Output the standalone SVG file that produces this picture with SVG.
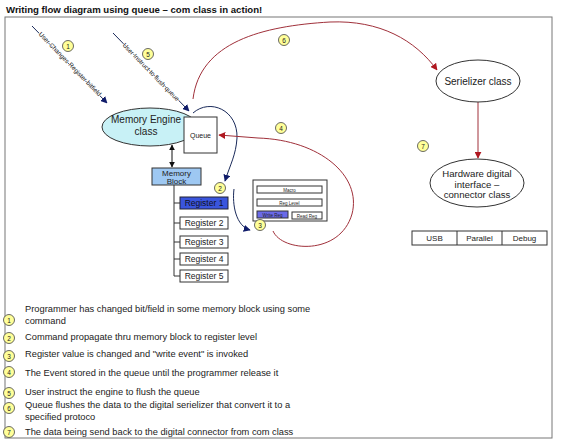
<svg xmlns="http://www.w3.org/2000/svg" width="565" height="444" viewBox="0 0 565 444">
<style>
text{font-family:"Liberation Sans",Arial,sans-serif;fill:#222}
.t{font-size:10px}
.lg{font-size:9.3px}
.sm{font-size:7px}
.rg{font-size:8.5px;text-anchor:middle}
.bx{fill:#fff;stroke:#333;stroke-width:1}
.num{fill:#ffff99;stroke:#444;stroke-width:0.8}
.nt{font-size:6.5px;text-anchor:middle}
.nav{fill:none;stroke:#1a2a5a;stroke-width:1}
.red{fill:none;stroke:#a0303a;stroke-width:1}
.diag{font-size:6.4px;paint-order:stroke;stroke:#fff;stroke-width:1.5px;fill:#111}
</style>
<defs>
<marker id="an" viewBox="0 0 10 10" refX="9" refY="5" markerWidth="7" markerHeight="7" orient="auto-start-reverse" markerUnits="userSpaceOnUse"><path d="M0,0L10,5L0,10z" fill="#101c6a"/></marker>
<marker id="ar" viewBox="0 0 10 10" refX="9" refY="5" markerWidth="7" markerHeight="7" orient="auto-start-reverse" markerUnits="userSpaceOnUse"><path d="M0,0L10,5L0,10z" fill="#b01820"/></marker>
<marker id="ak" viewBox="0 0 10 10" refX="9" refY="5" markerWidth="6" markerHeight="6" orient="auto-start-reverse" markerUnits="userSpaceOnUse"><path d="M0,0L10,5L0,10z" fill="#111"/></marker>
</defs>
<rect width="565" height="444" fill="#fff"/>
<text x="6" y="13" style="font-size:9.6px;font-weight:bold;fill:#111">Writing flow diagram using queue – com class in action!</text>
<rect x="5" y="17" width="547" height="421" fill="none" stroke="#777" stroke-width="1"/>

<g id="connectors">
<line x1="32" y1="26" x2="107" y2="103" class="nav" marker-end="url(#an)"/>
<line x1="113" y1="33" x2="189" y2="111" class="nav" marker-end="url(#an)"/>
<line x1="172" y1="145" x2="172" y2="167" stroke="#111" stroke-width="1" marker-start="url(#ak)" marker-end="url(#ak)"/>
<path d="M193,113 C210,98 238,110 237,138 C236,155 230,165 225,181" class="nav" marker-end="url(#an)"/>
<path d="M234,189 C232,205 236,226 250,230" class="nav" marker-end="url(#an)"/>
<path d="M273,231 C282,252 340,256 352,214 C362,176 320,140 258,138 L219,135" class="red" marker-end="url(#ar)"/>
<path d="M193,99 C200,42 262,26 330,22 C380,20 415,40 437,70" class="red" marker-end="url(#ar)"/>
<line x1="478" y1="102" x2="478" y2="158" class="red" marker-end="url(#ar)"/>
<path d="M174,185 L174,276 M174,203 L180,203 M174,223 L180,223 M174,242 L180,242 M174,259 L180,259 M174,276 L180,276" fill="none" stroke="#333" stroke-width="1"/>
</g>

<text class="diag" transform="translate(70,64) rotate(45.7)" text-anchor="middle" dy="2.2">User Changes Register bitfield</text>
<text class="diag" transform="translate(151,72) rotate(45.7)" text-anchor="middle" dy="2.2">User Instruct to flush queue</text>

<g id="memory-engine">
<ellipse cx="150" cy="127" rx="48" ry="19" fill="#c8f1f6" stroke="#333" stroke-width="1"/>
<text x="146" y="123" class="t" text-anchor="middle">Memory Engine</text>
<text x="146" y="135" class="t" text-anchor="middle">class</text>
</g>
<g id="queue">
<rect x="184" y="117" width="33" height="36" class="bx"/>
<text x="200.5" y="138" class="sm" text-anchor="middle">Queue</text>
</g>
<g id="memory-block">
<rect x="152" y="168" width="49" height="17" fill="#9ec8f2" stroke="#333" stroke-width="1"/>
<text x="176.5" y="175.5" style="font-size:8px" text-anchor="middle">Memory</text>
<text x="176.5" y="184" style="font-size:8px" text-anchor="middle">Block</text>
</g>
<g id="register1"><rect x="180" y="197" width="48" height="12" fill="#3a55dd" stroke="#223" stroke-width="1"/><text x="204" y="206" class="rg" style="fill:#112">Register 1</text></g>
<g id="register2"><rect x="180" y="217" width="48" height="12" class="bx"/><text x="204" y="226" class="rg">Register 2</text></g>
<g id="register3"><rect x="180" y="236" width="48" height="12" class="bx"/><text x="204" y="245" class="rg">Register 3</text></g>
<g id="register4"><rect x="180" y="253" width="48" height="12" class="bx"/><text x="204" y="262" class="rg">Register 4</text></g>
<g id="register5"><rect x="180" y="270" width="48" height="12" class="bx"/><text x="204" y="279" class="rg">Register 5</text></g>

<g id="panel">
<rect x="253" y="180" width="74" height="41" class="bx"/>
<rect x="257" y="186" width="65" height="7" class="bx"/><text x="289.5" y="191.5" style="font-size:4.5px" text-anchor="middle">Macro</text>
<rect x="257" y="199" width="65" height="7" class="bx"/><text x="289.5" y="204.5" style="font-size:4.5px" text-anchor="middle">Reg Level</text>
<rect x="257" y="211" width="31" height="7" fill="#6a6ae8" stroke="#333" stroke-width="1"/><text x="272.5" y="216.5" style="font-size:4.5px" text-anchor="middle">Write Reg</text>
<rect x="292" y="212" width="30" height="7" class="bx"/><text x="307" y="217.5" style="font-size:4.5px" text-anchor="middle">Read Reg</text>
</g>

<g id="serializer">
<ellipse cx="478" cy="81" rx="42" ry="21" fill="#fff" stroke="#333" stroke-width="1"/>
<text x="478" y="85" class="t" text-anchor="middle">Serielizer class</text>
</g>
<g id="hardware">
<ellipse cx="477" cy="183" rx="47" ry="24" fill="#fff" stroke="#333" stroke-width="1"/>
<text x="477" y="177" style="font-size:9.6px" text-anchor="middle">Hardware digital</text>
<text x="477" y="187.5" style="font-size:9.6px" text-anchor="middle">interface –</text>
<text x="477" y="198" style="font-size:9.6px" text-anchor="middle">connector class</text>
</g>
<g id="ports">
<rect x="412" y="231" width="135" height="14" class="bx"/>
<line x1="457" y1="231" x2="457" y2="245" stroke="#333"/>
<line x1="502" y1="231" x2="502" y2="245" stroke="#333"/>
<text x="434.5" y="241" style="font-size:8px" text-anchor="middle">USB</text>
<text x="479.5" y="241" style="font-size:8px" text-anchor="middle">Parallel</text>
<text x="524.5" y="241" style="font-size:8px" text-anchor="middle">Debug</text>
</g>

<g id="markers">
<circle cx="68" cy="46" r="5.5" class="num"/><text x="68" y="48.5" class="nt">1</text>
<circle cx="148" cy="54" r="5.5" class="num"/><text x="148" y="56.5" class="nt">5</text>
<circle cx="284" cy="40" r="5.5" class="num"/><text x="284" y="42.5" class="nt">6</text>
<circle cx="281" cy="128" r="5.5" class="num"/><text x="281" y="130.5" class="nt">4</text>
<circle cx="220" cy="188" r="5.5" class="num"/><text x="220" y="190.5" class="nt">2</text>
<circle cx="260" cy="225" r="5.5" class="num"/><text x="260" y="227.5" class="nt">3</text>
<circle cx="423" cy="146" r="5.5" class="num"/><text x="423" y="148.5" class="nt">7</text>
</g>

<g id="legend">
<circle cx="9" cy="320" r="5.5" class="num"/><text x="9" y="322.5" class="nt">1</text>
<text x="25" y="312" class="lg">Programmer has changed bit/field in some memory  block using some</text>
<text x="25" y="324" class="lg">command</text>
<circle cx="9" cy="338" r="5.5" class="num"/><text x="9" y="340.5" class="nt">2</text>
<text x="25" y="340" class="lg">Command propagate thru memory block  to register level</text>
<circle cx="9" cy="356" r="5.5" class="num"/><text x="9" y="358.5" class="nt">3</text>
<text x="25" y="357" class="lg">Register value is changed and "write event" is invoked</text>
<circle cx="9" cy="372" r="5.5" class="num"/><text x="9" y="374.5" class="nt">4</text>
<text x="25" y="376" class="lg">The Event stored in the queue until the programmer release it</text>
<circle cx="9" cy="393" r="5.5" class="num"/><text x="9" y="395.5" class="nt">5</text>
<text x="25" y="395" class="lg">User instruct the engine to flush the queue</text>
<circle cx="9" cy="408" r="5.5" class="num"/><text x="9" y="410.5" class="nt">6</text>
<text x="25" y="408" class="lg">Queue flushes the data to the digital serielizer that convert  it to a</text>
<text x="25" y="420" class="lg">specified protoco</text>
<circle cx="9" cy="432" r="5.5" class="num"/><text x="9" y="434.5" class="nt">7</text>
<text x="25" y="435" class="lg">The data being send  back to the digital connector from com class</text>
</g>
</svg>
